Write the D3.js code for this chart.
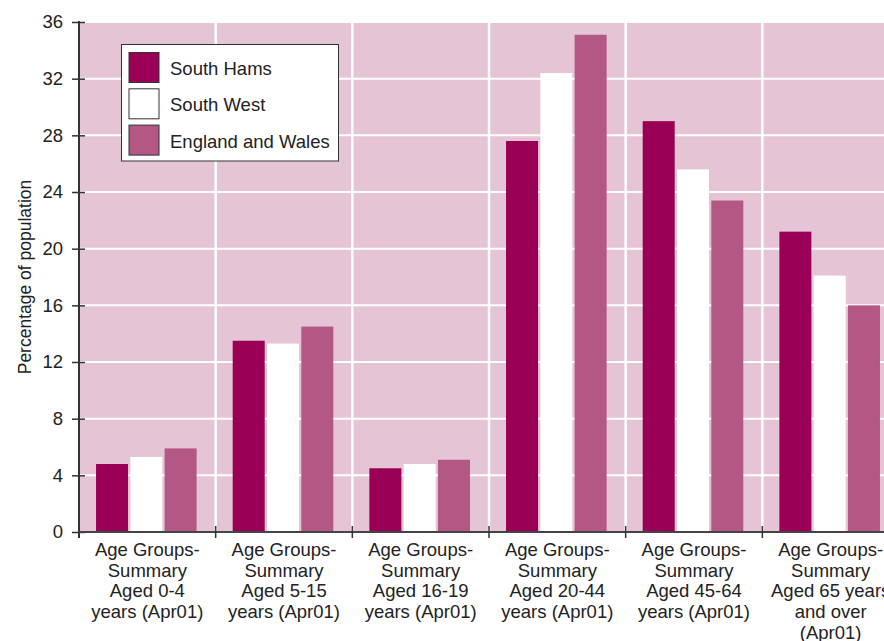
<!DOCTYPE html>
<html><head><meta charset="utf-8">
<script src="https://cdn.jsdelivr.net/npm/d3@7"></script>
<style>body{margin:0;background:#fff}svg{display:block}text{font-family:"Liberation Sans",Arial,sans-serif;fill:#222}</style>
</head><body><svg id="c" width="884" height="641"></svg>
<script>
const categories = [
  ["Age Groups-","Summary","Aged 0-4","years (Apr01)"],
  ["Age Groups-","Summary","Aged 5-15","years (Apr01)"],
  ["Age Groups-","Summary","Aged 16-19","years (Apr01)"],
  ["Age Groups-","Summary","Aged 20-44","years (Apr01)"],
  ["Age Groups-","Summary","Aged 45-64","years (Apr01)"],
  ["Age Groups-","Summary","Aged 65 years","and over","(Apr01)"]
];
const seriesNames = ["South Hams","South West","England and Wales"];
const southHams = [4.8, 13.5, 4.5, 27.6, 29.0, 21.2];
const southWest = [5.3, 13.3, 4.8, 32.4, 25.6, 18.1];
const englandWales = [5.9, 14.5, 5.1, 35.1, 23.4, 16.0];
const yTicks = [0,4,8,12,16,20,24,28,32,36];
const colors = ["#990055","#ffffff","#b35785"];

const series = [southHams, southWest, englandWales];
const svg = d3.select("#c");
const L = 79, R = 899, T = 22, B = 532;
const FS = 18.5;
const x = d3.scaleBand().domain(d3.range(categories.length)).range([L, R]).paddingInner(0).paddingOuter(0);
const y = d3.scaleLinear().domain([0,36]).range([B, T]);
const bw = 32, gap = 2.3;

// background
svg.append("rect").attr("x",L).attr("y",T).attr("width",R-L).attr("height",B-T).attr("fill","#e4c4d5");
// horizontal grid
svg.append("g").selectAll("line").data(yTicks.filter(d=>d>0)).join("line")
  .attr("x1",L).attr("x2",R).attr("y1",d=>y(d)).attr("y2",d=>y(d))
  .attr("stroke","#fff").attr("stroke-width",2);
// vertical grid
svg.append("g").selectAll("line").data(d3.range(1,categories.length)).join("line")
  .attr("x1",d=>x(d)).attr("x2",d=>x(d)).attr("y1",T).attr("y2",B)
  .attr("stroke","#fff").attr("stroke-width",2.5);

// bars
const groupW = 3*bw + 2*gap;
series.forEach((s,si)=>{
  svg.append("g").selectAll("rect").data(s).join("rect")
    .attr("x",(d,i)=>x(i) + (x.bandwidth()-groupW)/2 - 1 + si*(bw+gap))
    .attr("y",d=>y(d)).attr("width",bw).attr("height",d=>B-y(d))
    .attr("fill",colors[si]);
});

// y axis
const ya = svg.append("g").attr("transform",`translate(${L},0)`)
  .call(d3.axisLeft(y).tickValues(yTicks).tickSize(7).tickPadding(9).tickFormat(d3.format("d")));
ya.select(".domain").remove();
ya.selectAll(".tick line").attr("x1",-7).attr("x2",6).attr("stroke","#333").attr("stroke-width",1.5);
ya.selectAll(".tick text").attr("font-size",FS).attr("fill","#222").style("font-family","Liberation Sans, Arial, sans-serif");
svg.append("line").attr("x1",L).attr("x2",L).attr("y1",T-1).attr("y2",B+6).attr("stroke","#333").attr("stroke-width",2);

// x axis
svg.append("line").attr("x1",L).attr("x2",R).attr("y1",B).attr("y2",B).attr("stroke","#444").attr("stroke-width",2);
svg.append("g").selectAll("line").data(d3.range(0,categories.length)).join("line")
  .attr("x1",d=>x(d)).attr("x2",d=>x(d)).attr("y1",B-6).attr("y2",B+6)
  .attr("stroke","#333").attr("stroke-width",1.5);
const xl = svg.append("g");
categories.forEach((lines,i)=>{
  const t = xl.append("text").attr("text-anchor","middle").attr("font-size",FS)
    .attr("x", x(i)+x.bandwidth()/2).attr("y", 556);
  lines.forEach((ln,j)=>t.append("tspan").attr("x",x(i)+x.bandwidth()/2).attr("y",556+j*20.7).text(ln));
});

// y label
svg.append("text").attr("transform","translate(30.5,277) rotate(-90)").attr("text-anchor","middle")
  .attr("font-size",17.5).text("Percentage of population");

// legend
const lg = svg.append("g");
lg.append("rect").attr("x",121.5).attr("y",44.5).attr("width",217).attr("height",116.5)
  .attr("fill","#fff").attr("stroke","#333").attr("stroke-width",1);
seriesNames.forEach((n,i)=>{
  lg.append("rect").attr("x",129).attr("y",52.5+i*36.3).attr("width",30).attr("height",30)
    .attr("fill",colors[i]).attr("stroke","#333").attr("stroke-width",1);
  lg.append("text").attr("x",170).attr("y",75+i*36.3).attr("font-size",FS).text(n);
});
</script></body></html>
